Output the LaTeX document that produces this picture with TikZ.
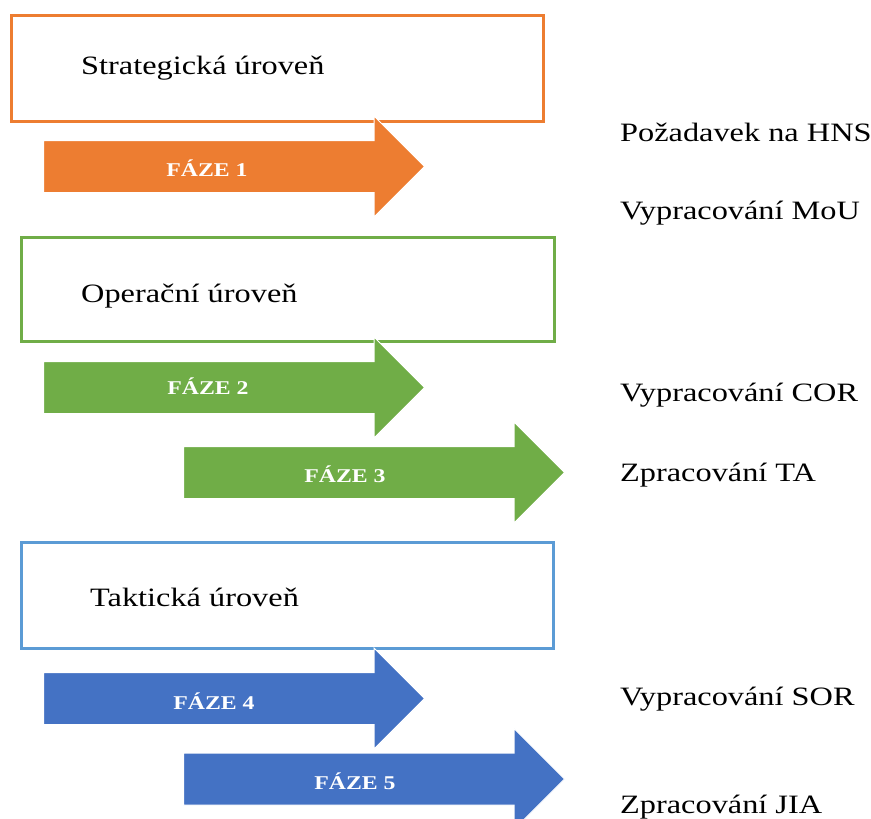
\documentclass[tikz,border=0pt]{standalone}
\usepackage{fontspec}
\setmainfont{Liberation Serif}[FakeStretch=1.22]
\usetikzlibrary{shapes.arrows,positioning}
\definecolor{fazeorange}{HTML}{ED7D31}
\definecolor{fazegreen}{HTML}{70AD47}
\definecolor{fazeblue}{HTML}{4472C4}
\definecolor{tierblue}{HTML}{5B9BD5}

\begin{document}
\begin{tikzpicture}[x=1pt,y=-1pt]
  \tikzstyle{tier}=[draw,rectangle,line width=2.5pt,anchor=north west,inner sep=0pt]
  \tikzstyle{tierlabel}=[anchor=base west,inner sep=0pt,font=\fontsize{26.5}{30}\selectfont]
  \tikzstyle{faze}=[single arrow,anchor=tail,draw=white,line width=1pt,
    minimum height=381pt,single arrow head extend=24.5pt,single arrow tip angle=90,
    text height=13pt,text depth=4pt,inner ysep=17pt,inner xsep=0pt]
  \tikzstyle{fazelabel}=[text=white,inner sep=0pt,font=\bfseries\fontsize{19.5}{22}\selectfont]
  \tikzstyle{task}=[anchor=base west,inner sep=0pt,font=\fontsize{26.5}{30}\selectfont]

  \useasboundingbox (0,0) rectangle (871,819);
  \clip (0,0) rectangle (871,819);

  % levels
  \node[tier,draw=fazeorange,minimum width=532pt,minimum height=106pt] (strat) at (10,14) {};
  \node[tier,draw=fazegreen,minimum width=533pt,minimum height=104pt]  (oper)  at (20,236) {};
  \node[tier,draw=tierblue,minimum width=532pt,minimum height=106pt]   (takt)  at (20,541) {};

  \node[tierlabel] (stratlabel) at (81,74)  {Strategická úroveň};
  \node[tierlabel] (operlabel)  at (81,302) {Operační úroveň};
  \node[tierlabel] (taktlabel)  at (90,606) {Taktická úroveň};

  % phases
  \node[faze,fill=fazeorange] (faze1) at (43,166.5) {};
  \node[faze,fill=fazegreen]  (faze2) at (43,387.5) {};
  \node[faze,fill=fazegreen]  (faze3) at (183,472.5) {};
  \node[faze,fill=fazeblue]   (faze4) at (43,698.5) {};
  \node[faze,fill=fazeblue]   (faze5) at (183,779) {};

  \node[fazelabel] (f1) at (207,168) {FÁZE 1};
  \node[fazelabel] (f2) at (208,386) {FÁZE 2};
  \node[fazelabel] (f3) at (345,474) {FÁZE 3};
  \node[fazelabel] (f4) at (214,701) {FÁZE 4};
  \node[fazelabel] (f5) at (355,781) {FÁZE 5};

  % outputs
  \node[task] (hns) at (620,141) {Požadavek na HNS};
  \node[task] (mou) at (620,219) {Vypracování MoU};
  \node[task] (cor) at (620,401) {Vypracování COR};
  \node[task] (ta)  at (620,481) {Zpracování TA};
  \node[task] (sor) at (620,705) {Vypracování SOR};
  \node[task] (jia) at (620,813) {Zpracování JIA};
\end{tikzpicture}
\end{document}
